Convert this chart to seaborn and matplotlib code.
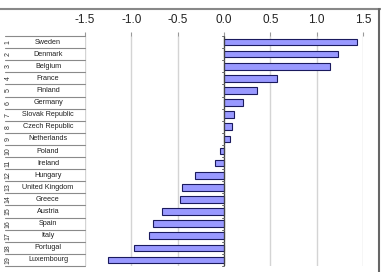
import matplotlib
matplotlib.use("Agg")
import matplotlib.pyplot as plt
import matplotlib.transforms as mtransforms
from matplotlib.lines import Line2D
import pandas as pd
import seaborn as sns

# datos
countries = ["Sweden", "Denmark", "Belgium", "France", "Finland", "Germany",
             "Slovak Republic", "Czech Republic", "Netherlands", "Poland",
             "Ireland", "Hungary", "United Kingdom", "Greece", "Austria",
             "Spain", "Italy", "Portugal", "Luxembourg"]
values = [1.43, 1.23, 1.145, 0.577, 0.36, 0.20, 0.108, 0.087, 0.065, -0.043,
          -0.10, -0.31, -0.455, -0.48, -0.67, -0.77, -0.805, -0.975, -1.25]
ranks = list(range(1, len(countries) + 1))
xticks = [-1.5, -1.0, -0.5, 0.0, 0.5, 1.0, 1.5]

df = pd.DataFrame({"country": countries, "value": values, "rank": ranks})

sns.set_style("white")
plt.rcParams["font.family"] = ["Liberation Sans", "DejaVu Sans"]

W, H = 381, 272
fig = plt.figure(figsize=(W / 100, H / 100), dpi=100)
x0, x1, y0, y1 = 85, 363, 36, 266
ax = fig.add_axes([x0 / W, 1 - y1 / H, (x1 - x0) / W, (y1 - y0) / H])

sns.barplot(data=df, x="value", y="country", orient="h", ax=ax,
            color="#9999FF", saturation=1, width=0.55,
            edgecolor="#1a1a5e", linewidth=0.8)

ax.set_xlim(-1.5, 1.5)
ax.set_ylim(len(countries) - 0.5, -0.5)
ax.set_xticks(xticks)
ax.set_xticklabels([f"{t:.1f}" for t in xticks])
ax.xaxis.tick_top()
ax.tick_params(axis="x", which="both", top=True, bottom=False, length=3,
               width=0.8, color="#999999", pad=4, labelsize=8.5, labelcolor="#222222")
ax.set_yticks([])
ax.set_xlabel("")
ax.set_ylabel("")
for s in ax.spines.values():
    s.set_visible(False)
ax.grid(axis="x", color="#d4d4d4", linewidth=1)
ax.set_axisbelow(True)

# eje en cero con marcas entre categorias
ax.axvline(0, color="#444444", linewidth=0.9, zorder=3)
n = len(countries)
for i in range(n + 1):
    ax.plot([-0.025, 0], [i - 0.5, i - 0.5], color="#666666", linewidth=0.7,
            zorder=3, clip_on=False)

# tabla de paises a la izquierda
tr = mtransforms.blended_transform_factory(ax.transAxes, ax.transData)
px = lambda p: (p - x0) / (x1 - x0)
for i, row in df.iterrows():
    ax.text(px(8), i, str(row["rank"]), transform=tr, rotation=90,
            ha="center", va="center", fontsize=5, color="#333333")
    ax.text(px(48), i, row["country"], transform=tr, ha="center",
            va="center", fontsize=5.2, color="#222222")
for i in range(n + 1):
    ax.plot([px(5), px(85)], [i - 0.5, i - 0.5], transform=tr,
            color="#8a8a8a", linewidth=0.8, clip_on=False)

# marco
fig.add_artist(Line2D([0, 1], [1 - 9 / H, 1 - 9 / H], color="#888888", linewidth=1.5))
fig.add_artist(Line2D([379 / W, 379 / W], [0, 1 - 9 / H], color="#666666", linewidth=1.5))

fig.savefig("out.png", dpi=100)
